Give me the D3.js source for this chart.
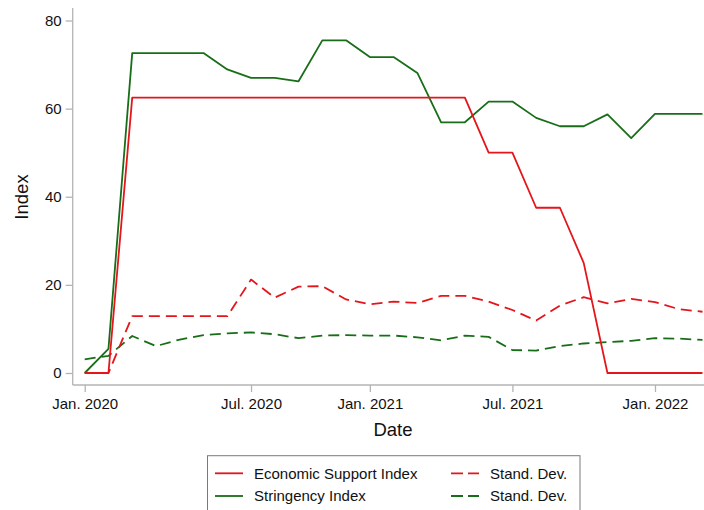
<!DOCTYPE html>
<html>
<head>
<meta charset="utf-8">
<script src="https://cdn.jsdelivr.net/npm/d3@7"></script>
<style>
  body { margin: 0; background: #fff; }
  svg { display: block; font-family: "Liberation Sans", Arial, sans-serif; }
</style>
</head>
<body>
<svg id="chart" width="704" height="510"></svg>
<script>
// months Jan 2020 .. Mar 2022, one point per month
var months = d3.range(27);
var econSupport = [0, 0, 62.5, 62.5, 62.5, 62.5, 62.5, 62.5, 62.5, 62.5, 62.5, 62.5, 62.5, 62.5,
  62.5, 62.5, 62.5, 50, 50, 37.5, 37.5, 25, 0, 0, 0, 0, 0];
var econSD = [0, 0, 12.9, 12.9, 12.9, 12.9, 12.9, 21.2, 17.1, 19.6, 19.7, 16.7, 15.6, 16.2,
  15.9, 17.5, 17.5, 16.2, 14.3, 11.9, 15.3, 17.2, 15.8, 16.8, 16.1, 14.5, 13.9];
var stringency = [0, 5.5, 72.6, 72.6, 72.6, 72.6, 68.9, 67.0, 67.0, 66.2, 75.5, 75.5, 71.7, 71.7,
  68.1, 56.9, 56.9, 61.6, 61.6, 57.9, 56.0, 56.0, 58.7, 53.3, 58.8, 58.8, 58.8];
var stringSD = [3.1, 3.9, 8.4, 6.1, 7.6, 8.6, 9.0, 9.2, 8.8, 7.9, 8.5, 8.6, 8.5, 8.5,
  8.1, 7.4, 8.5, 8.2, 5.2, 5.1, 6.1, 6.7, 7.0, 7.3, 7.9, 7.8, 7.5];
var xTicks = [0, 7, 12, 18, 24];
var xTickLabels = ["Jan. 2020", "Jul. 2020", "Jan. 2021", "Jul. 2021", "Jan. 2022"];
var yTicks = [0, 20, 40, 60, 80];

var RED = "rgb(228,22,28)", GREEN = "rgb(24,110,24)", AXIS = "#b4b4b4";

var svg = d3.select("#chart");
var box = { left: 72.7, right: 704, top: 8, bottom: 385 };

var x = d3.scaleLinear().domain([0, 26]).range([84.7, 702.5]);
var y = d3.scaleLinear().domain([0, 80]).range([373, 20.5]);

// axes
var yAxis = svg.append("g").attr("transform", "translate(" + box.left + ",0)")
  .call(d3.axisLeft(y).tickValues(yTicks).tickSize(7).tickPadding(4));
var xAxis = svg.append("g").attr("transform", "translate(0," + box.bottom + ")")
  .call(d3.axisBottom(x).tickValues(xTicks).tickSize(7).tickPadding(6)
    .tickFormat(function (d, i) { return xTickLabels[i]; }));
[yAxis, xAxis].forEach(function (g) {
  g.select(".domain").remove();
  g.selectAll(".tick line").attr("stroke", AXIS).attr("stroke-width", 1.3);
  g.selectAll(".tick text").attr("fill", "#111").style("font-size", "15px")
    .style("font-family", "Liberation Sans, Arial, sans-serif");
});
svg.append("line").attr("x1", box.left).attr("x2", box.left).attr("y1", box.top).attr("y2", box.bottom)
  .attr("stroke", AXIS).attr("stroke-width", 1.3);
svg.append("line").attr("x1", box.left).attr("x2", box.right).attr("y1", box.bottom).attr("y2", box.bottom)
  .attr("stroke", AXIS).attr("stroke-width", 1.3);

// axis titles
svg.append("text").attr("x", 393).attr("y", 436).attr("text-anchor", "middle")
  .style("font-size", "18.5px").attr("fill", "#111").text("Date");
svg.append("text").attr("transform", "translate(28,197) rotate(-90)").attr("text-anchor", "middle")
  .style("font-size", "18.5px").attr("fill", "#111").text("Index");

// lines
var series = [
  { vals: stringSD, color: GREEN, dash: "11,6" },
  { vals: econSD, color: RED, dash: "11,6" },
  { vals: stringency, color: GREEN, dash: null },
  { vals: econSupport, color: RED, dash: null }
];
var line = d3.line().x(function (d) { return x(d[0]); }).y(function (d) { return y(d[1]); });
series.forEach(function (s) {
  svg.append("path")
    .datum(months.map(function (m, i) { return [m, s.vals[i]]; }))
    .attr("d", line)
    .attr("fill", "none")
    .attr("stroke", s.color)
    .attr("stroke-width", 1.8)
    .attr("stroke-linejoin", "round")
    .attr("stroke-dasharray", s.dash);
});

// legend
var lg = svg.append("g");
lg.append("rect").attr("x", 207.5).attr("y", 455.7).attr("width", 372.5).attr("height", 60)
  .attr("fill", "#fff").attr("stroke", "#7a7a7a").attr("stroke-width", 1);
var legendItems = [
  { label: "Economic Support Index", color: RED, dash: null, col: 0, row: 0 },
  { label: "Stand. Dev.", color: RED, dash: "12,5", col: 1, row: 0 },
  { label: "Stringency Index", color: GREEN, dash: null, col: 0, row: 1 },
  { label: "Stand. Dev.", color: GREEN, dash: "12,5", col: 1, row: 1 }
];
var colX = [215, 451], rowY = [473.3, 496];
legendItems.forEach(function (d) {
  var lx = colX[d.col], ly = rowY[d.row];
  lg.append("line").attr("x1", lx).attr("x2", lx + 28).attr("y1", ly).attr("y2", ly)
    .attr("stroke", d.color).attr("stroke-width", 1.8).attr("stroke-dasharray", d.dash);
  lg.append("text").attr("x", lx + 39).attr("y", ly).attr("dy", "0.35em")
    .style("font-size", "15px").attr("fill", "#111").text(d.label);
});
</script>
</body>
</html>
